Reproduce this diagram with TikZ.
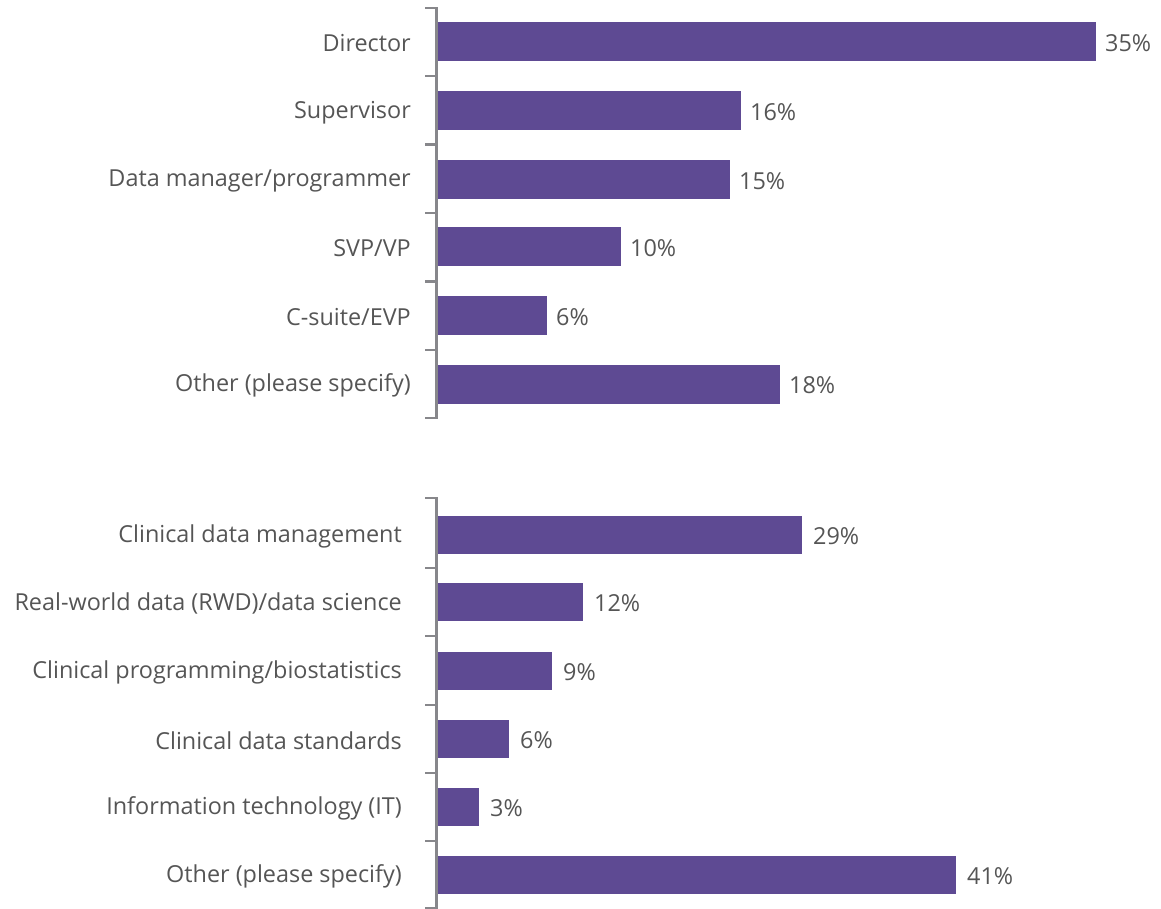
\documentclass[tikz,border=0pt]{standalone}
\usepackage{fontspec}
\setmainfont{Open Sans}
\definecolor{barc}{HTML}{5E4A93}
\definecolor{axc}{HTML}{87878B}
\definecolor{txtc}{HTML}{555555}
\begin{document}
\begin{tikzpicture}[x=1pt,y=-1pt,
  bar/.style={fill=barc,draw=none},
  axis/.style={draw=axc,line width=2.4pt},
  cat/.style={anchor=east,text=txtc,font=\fontsize{23.4}{28}\selectfont,inner sep=0pt},
  val/.style={anchor=west,text=txtc,font=\fontsize{23.4}{28}\selectfont,inner sep=0pt}]
\useasboundingbox (0,0) rectangle (1161,909);
% top axis
\draw[axis] (425,8) -- (436.5,8) -- (436.5,418) -- (425,418);
\foreach \t in {76.3,144.7,213,281.3,349.7}{\draw[axis] (425,\t) -- (436.5,\t);}
% bottom axis
\draw[axis] (425,498) -- (436.5,498) -- (436.5,908) -- (425,908);
\foreach \t in {568,636,705,773,841}{\draw[axis] (425,\t) -- (436.5,\t);}
% top bars
\foreach \c/\e/\lab/\v [count=\i] in {
  42/1096/Director/35\%,
  111/741/Supervisor/16\%,
  179.5/730/Data manager\slash programmer/15\%,
  247/621/SVP\slash VP/10\%,
  315.5/547/C-suite\slash EVP/6\%,
  384/780/Other (please specify)/18\%}{
  \fill[bar] (437.7,\c-19.5) rectangle (\e,\c+19.5);
  \node[cat] (ta\i) at (411,\c+1.5) {\lab};
  \node[val] (tv\i) at (\e+9,\c+1.5) {\v};
}
% bottom bars
\foreach \c/\e/\lab/\v [count=\i] in {
  535/802/Clinical data management/29\%,
  602/583/Real-world data (RWD)\slash data science/12\%,
  671/552/Clinical programming\slash biostatistics/9\%,
  739/509/Clinical data standards/6\%,
  807/479/Information technology (IT)/3\%,
  875/956/Other (please specify)/41\%}{
  \fill[bar] (437.7,\c-19) rectangle (\e,\c+19);
  \node[cat] (ba\i) at (402,\c+1.5) {\lab};
  \node[val] (bv\i) at (\e+11,\c+1.5) {\v};
}
\end{tikzpicture}
\end{document}
